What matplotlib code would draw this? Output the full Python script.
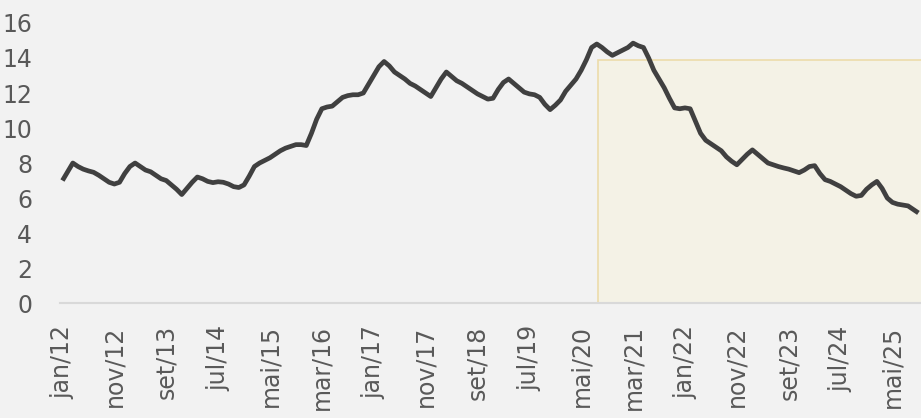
import matplotlib
matplotlib.use("Agg")
import matplotlib.pyplot as plt
from matplotlib.patches import Rectangle

# monthly series, jan/12 .. out/25
values = [
    7.0, 7.5, 8.0, 7.8, 7.65, 7.55, 7.47, 7.3, 7.1, 6.9,
    6.8, 6.9, 7.4, 7.8, 8.0, 7.8, 7.6, 7.5, 7.3, 7.1,
    7.0, 6.75, 6.5, 6.2, 6.55, 6.9, 7.2, 7.1, 6.95, 6.88,
    6.93, 6.9, 6.8, 6.65, 6.6, 6.75, 7.25, 7.8, 8.0, 8.15,
    8.3, 8.5, 8.7, 8.85, 8.95, 9.05, 9.05, 9.0, 9.7, 10.5,
    11.1, 11.2, 11.25, 11.5, 11.75, 11.85, 11.9, 11.9, 12.0, 12.5,
    13.0, 13.5, 13.8, 13.55, 13.2, 13.0, 12.8, 12.55, 12.4, 12.2,
    12.0, 11.8, 12.3, 12.8, 13.2, 12.95, 12.7, 12.55, 12.35, 12.15,
    11.95, 11.8, 11.65, 11.7, 12.2, 12.6, 12.8, 12.55, 12.3, 12.05,
    11.95, 11.9, 11.75, 11.35, 11.05, 11.3, 11.6, 12.1, 12.45, 12.8,
    13.3, 13.9, 14.6, 14.8, 14.6, 14.35, 14.15, 14.3, 14.45, 14.6,
    14.85, 14.7, 14.6, 14.0, 13.3, 12.8, 12.3, 11.7, 11.15, 11.1,
    11.15, 11.1, 10.4, 9.7, 9.3, 9.1, 8.9, 8.7, 8.35, 8.1,
    7.9, 8.2, 8.5, 8.75, 8.5, 8.25, 8.0, 7.9, 7.8, 7.72,
    7.65, 7.55, 7.45, 7.6, 7.8, 7.85, 7.4, 7.05, 6.95, 6.8,
    6.65, 6.45, 6.25, 6.1, 6.15, 6.5, 6.75, 6.95, 6.55, 6.0,
    5.75, 5.65, 5.6, 5.55, 5.35, 5.15,
]
tick_labels = ["jan/12", "nov/12", "set/13", "jul/14", "mai/15", "mar/16",
               "jan/17", "nov/17", "set/18", "jul/19", "mai/20", "mar/21",
               "jan/22", "nov/22", "set/23", "jul/24", "mai/25"]
highlight_start = 103.2   # month index where the shaded box starts
highlight_top = 13.9

bg = "#f2f2f2"
txt = "#595959"

fig = plt.figure(figsize=(9.21, 4.18), dpi=100, facecolor=bg)
ax = fig.add_axes([0.065, 0.275, 0.935, 0.67], facecolor=bg)

x = list(range(len(values)))
ax.add_patch(Rectangle((highlight_start, 0), len(values) - highlight_start + 2, highlight_top,
                       facecolor="#f4f2e6", edgecolor="#ecdcaa", linewidth=1.2, zorder=1))
ax.plot(x, values, color="#404040", linewidth=3.4, solid_joinstyle="round",
        solid_capstyle="butt", zorder=3)

ax.set_xlim(-0.5, 165.5)
ax.set_ylim(0, 16)
ax.set_yticks(range(0, 17, 2))
ax.set_xticks(range(0, 10 * len(tick_labels), 10))
ax.set_xticklabels(tick_labels, rotation=90)

for s in ["top", "right", "left"]:
    ax.spines[s].set_visible(False)
ax.spines["bottom"].set_color("#d9d9d9")
ax.spines["bottom"].set_linewidth(1.5)
ax.spines["bottom"].set_zorder(2)
ax.tick_params(axis="both", length=0, labelsize=17, labelcolor=txt)
ax.tick_params(axis="y", pad=20)
ax.tick_params(axis="x", pad=16)

fig.savefig("out.png", dpi=100, facecolor=bg)
